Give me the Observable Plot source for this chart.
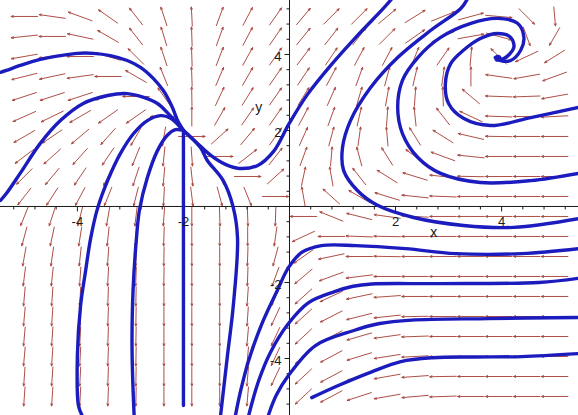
<!DOCTYPE html>
<html>
<head>
<meta charset="utf-8">
<script src="https://cdn.jsdelivr.net/npm/d3@7"></script>
<script src="https://cdn.jsdelivr.net/npm/@observablehq/plot@0.6"></script>
<style>
  body { margin: 0; background: #fff; }
  svg { display: block; }
</style>
</head>
<body>
<div id="chart"></div>
<script>
// Direction field sample points (20 x 20 grid)
const xGrid = [-5, -4.474, -3.947, -3.421, -2.895, -2.368, -1.842, -1.316, -0.789, -0.263,
               0.263, 0.789, 1.316, 1.842, 2.368, 2.895, 3.421, 3.947, 4.474, 5];
const yGrid = [5, 4.474, 3.947, 3.421, 2.895, 2.368, 1.842, 1.316, 0.789, 0.263,
               -0.263, -0.789, -1.316, -1.842, -2.368, -2.895, -3.421, -3.947, -4.474, -5];

// Arrow heading at each grid point, degrees counter-clockwise from +x (rows top to bottom)
const arrowAngles = [
  [180,172,160,145,128,108, 93,  70, 62, 55, 50,  45, 45, 40, 32, 22, 15,355,315,275],
  [186,180,168,150,128,107, 92,  70, 62, 55, 51,  52, 52, 45, 35, 25, 10,345,290,240],
  [190,186,180,163,135,108, 92,  69, 61, 55, 53,  56, 62, 62, 68, 55, 85,135,205,212],
  [194,192,188,180,150,112, 92,  67, 60, 55, 56,  62, 70, 75, 77, 82, 90,172,190,200],
  [198,198,198,195,180,125, 91,  65, 58, 55, 58,  66, 74, 80, 86, 92,140,178,182,190],
  [204,206,210,215,215,180, 90,  60, 55, 55, 62,  70, 77, 86, 96,128,155,178,180,183],
  [210,214,220,228,240,260,  0,  42, 50, 55, 66,  75, 82, 95,122,148,167,179,180,180],
  [217,222,228,236,248,264,274,   0, 38, 52, 70,  85,105,122,143,160,174,180,180,180],
  [225,230,236,243,252,265,276, 300,  0, 42, 78, 100,128,148,163,174,179,180,180,180],
  [232,237,242,248,256,267,277, 285,292,  0,100, 138,150,163,174,178,180,180,180,180],
  [248,252,256,260,263,266,270, 272,272,268,180, 158,166,172,177,180,180,180,180,180],
  [255,258,261,264,266,268,270, 270,270,262,205, 180,178,179,180,180,180,180,180,180],
  [260,262,264,266,268,269,270, 270,268,255,215, 192,180,179,180,180,180,180,180,180],
  [263,264,266,267,268,269,270, 270,268,250,220, 200,187,180,180,180,180,180,180,180],
  [265,266,267,268,269,270,270, 270,266,247,222, 205,192,184,180,180,180,180,180,180],
  [265,266,267,268,269,270,270, 270,266,245,222, 207,194,186,181,180,180,180,180,180],
  [265,266,267,268,269,270,270, 270,265,245,223, 208,196,188,182,180,180,180,180,180],
  [265,266,267,268,269,270,270, 270,265,245,223, 208,197,189,183,181,180,180,180,180],
  [266,266,267,268,269,270,270, 270,265,245,223, 208,198,190,184,181,180,180,180,180],
  [266,266,267,268,269,270,270, 270,265,245,223, 208,198,190,185,182,180,180,180,180]
];

// Solution curves, [x, y] points
const archTop = [[-5.45,3.53],[-5.34,3.58],[-5.08,3.71],[-4.70,3.87],[-4.32,3.97],[-4.0,4.03],[-3.70,4.03],
  [-3.38,3.97],[-3.06,3.84],[-2.81,3.66],[-2.57,3.37],[-2.38,3.05],[-2.21,2.61],[-2.11,2.26],[-2,2]];
const archSecond = [[-5.45,0.16],[-5.34,0.34],[-5.08,0.87],[-4.70,1.66],[-4.32,2.26],[-3.89,2.71],[-3.43,2.92],
  [-3.06,2.97],[-2.75,2.87],[-2.49,2.71],[-2.25,2.39],[-2,2]];
const archThird = [[-3.91,-5.5],[-3.98,-5.24],[-4.0,-3.92],[-3.94,-2.61],[-3.85,-1.74],[-3.75,-0.84],[-3.62,-0.05],
  [-3.43,0.68],[-3.19,1.39],[-2.94,1.92],[-2.68,2.26],[-2.43,2.39],[-2.25,2.33],[-2,2]];
const archFourth = [[-2.93,-5.5],[-2.96,-4.4],[-2.97,-3.5],[-2.95,-2.2],[-2.89,-0.9],[-2.83,-0.1],[-2.68,0.76],
  [-2.49,1.47],[-2.30,1.88],[-2.15,2.02],[-2,2]];
const verticalDrop = [[-2,2],[-2,-5.24]];
const rightDrop = [[-2,2],[-1.68,1.55],[-1.55,1.21],[-1.25,0.68],[-1.06,-0.03],[-0.98,-0.84],[-1.06,-2.61],
  [-1.17,-3.92],[-1.30,-5.5]];
const valleyRise = [[-2,2],[-1.75,1.68],[-1.49,1.35],[-1.2,1.1],[-0.95,1.0],[-0.6,1.08],[-0.3,1.45],[0,2.2],
  [0.34,2.95],[0.77,3.7],[1.25,4.45],[1.77,5.21],[1.95,5.5]];
const outerSweep = [[3.35,5.45],[3.23,5.21],[2.66,4.63],[2.04,3.92],[1.53,3.13],[1.15,2.26],[1.0,1.55],[1.02,0.95],
  [1.28,0.42],[1.66,0.03],[2.34,-0.29],[3.28,-0.5],[4.23,-0.55],[5.45,-0.32]];
const spiralOuter = [[5.45,0.87],[4.55,0.68],[3.60,0.63],[2.85,0.87],[2.42,1.29],[2.13,1.92],[2.04,2.61],
  [2.13,3.32],[2.42,3.92],[2.85,4.45],[3.42,4.82],[3.92,4.95],[4.30,4.82],[4.42,4.45],[4.36,4.11],
  [4.17,3.84],[3.98,3.84],[3.88,3.92]];
const spiralInner = [[5.45,2.61],[4.55,2.34],[3.79,2.13],[3.28,2.32],[3.0,2.71],[2.94,3.24],[3.04,3.76],
  [3.28,4.11],[3.60,4.42],[3.92,4.55],[4.17,4.45],[4.23,4.18],[4.04,3.89],[3.92,3.89]];
const lowerFirst = [[5.45,-1.11],[4.38,-1.24],[3.13,-1.24],[2.19,-1.11],[1.25,-1.03],[0.60,-1.03],[0.23,-1.21],
  [-0.02,-1.61],[-0.23,-2.21],[-0.51,-3.05],[-0.77,-4.05],[-0.92,-4.84],[-1.02,-5.5]];
const lowerSecond = [[5.45,-1.89],[4.70,-2.0],[2.81,-2.03],[1.55,-2.04],[1.2,-2.1],[0.85,-2.24],[0.36,-2.53],
  [-0.02,-3.08],[-0.36,-3.84],[-0.58,-4.58],[-0.77,-5.5]];
const lowerThird = [[5.45,-2.92],[3.75,-2.95],[2.3,-2.99],[1.7,-3.08],[1.2,-3.27],[0.49,-3.66],[-0.02,-4.45],
  [-0.25,-4.97],[-0.40,-5.5]];
const lowerFourth = [[0.42,-5.03],[0.92,-4.71],[1.55,-4.35],[2.1,-4.08],[2.7,-3.98],[3.5,-3.96],[4.38,-3.95],
  [5.45,-3.87]];
const spiralEnd = [[3.93,3.9]];

const solutionCurves = [archTop, archSecond, archThird, archFourth, verticalDrop, rightDrop, valleyRise,
  outerSweep, spiralOuter, spiralInner, lowerFirst, lowerSecond, lowerThird, lowerFourth];

// Axis ticks and labels
const xTicks = [-4, -2, 2, 4];
const xTickLabels = ["-4", "-2", "2", "4"];
const yTicks = [4, 2, -2, -4];
const yTickLabels = ["4", "2", "-2", "-4"];
const minorStep = 0.4;
const axisTitles = [{text: "x", x: 2.72, y: -0.68}, {text: "y", x: -0.58, y: 2.6}];

const W = 578, H = 415;
const xDomain = [-5.45, 5.45];
const yDomain = [-5.5, 5.42];
const pxX = W / (xDomain[1] - xDomain[0]);
const pxY = H / (yDomain[1] - yDomain[0]);
const halfLen = 0.25;

const arrows = [];
yGrid.forEach((y, r) => xGrid.forEach((x, k) => {
  const a = arrowAngles[r][k] * Math.PI / 180;
  const ux = Math.cos(a) / pxX, uy = Math.sin(a) / pxY;
  const n = Math.hypot(ux, uy);
  const hx = ux / n * halfLen, hy = uy / n * halfLen;
  arrows.push({x1: x - hx, y1: y - hy, x2: x + hx, y2: y + hy});
}));

const minorTicks = d3.range(-13, 14).filter(i => i !== 0).map(i => i * minorStep);
const isMajor = d => Math.abs(Math.round(d * 10) % 20) === 0;
const blue = "#1c1cbe";
const ink = "#1a1a1a";

const lineMarks = solutionCurves.map(c => Plot.line(c, {
  x: d => d[0], y: d => d[1], stroke: blue, strokeWidth: 3.4, curve: "catmull-rom",
  strokeLinecap: "round", clip: true
}));

const chart = Plot.plot({
  width: W, height: H,
  marginTop: 0, marginRight: 0, marginBottom: 0, marginLeft: 0,
  x: {domain: xDomain, axis: null},
  y: {domain: yDomain, axis: null},
  style: {background: "#fff", fontFamily: "'Liberation Sans', Arial, sans-serif"},
  marks: [
    Plot.arrow(arrows, {x1: "x1", y1: "y1", x2: "x2", y2: "y2", stroke: "#a8463d",
      strokeWidth: 1, headLength: 3.5, headAngle: 45, strokeOpacity: 0.95}),
    Plot.ruleY([0], {stroke: ink, strokeWidth: 1}),
    Plot.ruleX([0], {stroke: ink, strokeWidth: 1}),
    Plot.link(minorTicks, {x1: d => d, x2: d => d, y1: () => 0,
      y2: d => -(isMajor(d) ? 5 : 3) / pxY, stroke: ink, strokeWidth: 1}),
    Plot.link(minorTicks, {y1: d => d, y2: d => d, x1: () => 0,
      x2: d => -(isMajor(d) ? 5 : 3) / pxX, stroke: ink, strokeWidth: 1}),
    ...lineMarks,
    Plot.dot(spiralEnd, {x: d => d[0], y: d => d[1], r: 3.6, fill: blue}),
    Plot.text(xTicks, {x: d => d, y: () => 0, text: (d, i) => xTickLabels[i], dy: 15, fontSize: 13, fill: ink}),
    Plot.text(yTicks, {x: () => 0, y: d => d, text: (d, i) => yTickLabels[i], dx: -8, dy: 2,
      textAnchor: "end", fontSize: 13, fill: ink}),
    Plot.text(axisTitles, {x: "x", y: "y", text: "text", fontSize: 14, fill: ink})
  ]
});

document.getElementById("chart").append(chart);
</script>
</body>
</html>
